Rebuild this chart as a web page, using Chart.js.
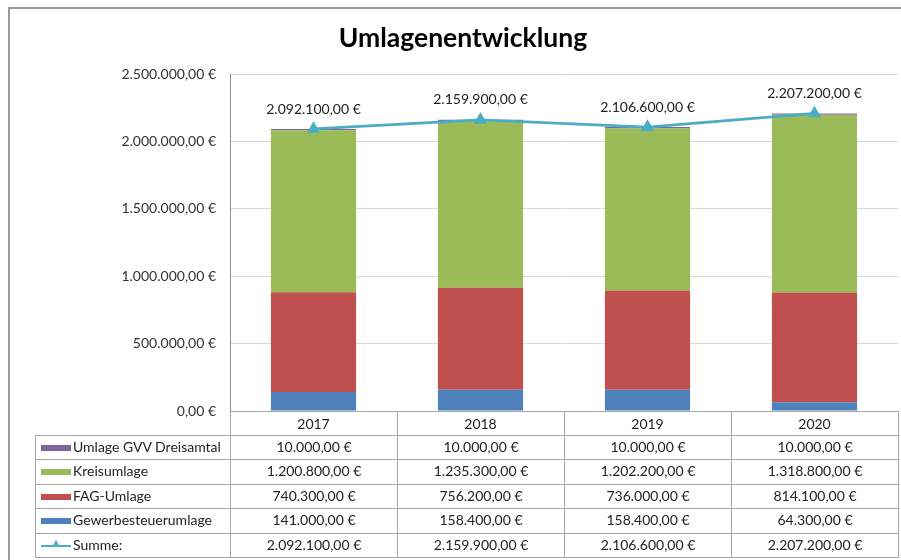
<!DOCTYPE html>
<html lang="de">
<head>
<meta charset="utf-8">
<title>Umlagenentwicklung</title>
<script src="https://cdn.jsdelivr.net/npm/chart.js@4/dist/chart.umd.min.js"></script>
<style>
  html, body { margin: 0; padding: 0; background: #fff; }
  body { width: 901px; height: 560px; position: relative; overflow: hidden;
         font-family: Lato, "Open Sans", sans-serif; }
  #frame { position: absolute; left: 8px; top: 7px; width: 1000px; height: 1000px;
           border-left: 2px solid #9a9a9a; border-top: 2px solid #9a9a9a; }
  #wrap { position: absolute; left: 0; top: 0; width: 901px; height: 560px; }
  #datatable { position: absolute; left: 0; top: 0; font-size: 14px; color: #222; }
  .cell { position: absolute; box-sizing: border-box; border: 1px solid #a6a6a6;
          line-height: 22px; white-space: nowrap; overflow: hidden; }
  .num { text-align: center; }
  .name { padding-left: 37px; }
  .key { position: absolute; left: 5px; top: 9px; width: 30px; height: 6px; }
  .lineKey { position: absolute; left: 5px; top: 11px; width: 30px; height: 2px; background: #4BACC6; }
  .tri { position: absolute; left: 11px; top: -5px; width: 0; height: 0;
         border-left: 4px solid transparent; border-right: 4px solid transparent;
         border-bottom: 7px solid #4BACC6; }
</style>
</head>
<body>
<div id="frame"></div>
<div id="wrap"><canvas id="chart" width="901" height="560"></canvas></div>
<div id="datatable"></div>
<script>
/**************************************************
 DATA
**************************************************/
const years = ["2017", "2018", "2019", "2020"];
const gvv = [10000, 10000, 10000, 10000];
const kreis = [1200800, 1235300, 1202200, 1318800];
const fag = [740300, 756200, 736000, 814100];
const gewerbe = [141000, 158400, 158400, 64300];
const summe = [2092100, 2159900, 2106600, 2207200];

const yTicks = [0, 500000, 1000000, 1500000, 2000000, 2500000];

// table rows, top to bottom (like the Excel data table)
const tableRows = [
  { label: "Umlage GVV Dreisamtal", data: gvv, color: "#8064A2" },
  { label: "Kreisumlage", data: kreis, color: "#9BBB59" },
  { label: "FAG-Umlage", data: fag, color: "#C0504D" },
  { label: "Gewerbesteuerumlage", data: gewerbe, color: "#4F81BD" },
  { label: "Summe:", data: summe, color: "#4BACC6", line: true }
];

/**************************************************
 HELPERS
**************************************************/
function euro(v) {
  const p = v.toFixed(2).split(".");
  const int = p[0].replace(/\B(?=(\d{3})+(?!\d))/g, ".");
  return int + "," + p[1] + " €";
}

const FONT = "Lato, 'Open Sans', sans-serif";

// labels above the Summe points
const sumLabels = {
  id: "sumLabels",
  afterDatasetsDraw(chart) {
    const ctx = chart.ctx;
    chart.data.datasets.forEach((ds, i) => {
      if (ds.type !== "line") return;
      const meta = chart.getDatasetMeta(i);
      ctx.save();
      ctx.font = "14px " + FONT;
      ctx.fillStyle = "#222";
      ctx.textAlign = "center";
      ctx.textBaseline = "middle";
      meta.data.forEach((pt, j) => {
        ctx.fillText(euro(ds.data[j]), pt.x, pt.y - 20);
      });
      ctx.restore();
    });
  }
};

// data table under the plot, aligned to the x scale
const dataTable = {
  id: "dataTable",
  afterRender(chart) {
    if (chart._tableDone) return;
    chart._tableDone = true;
    const ca = chart.chartArea;
    const n = years.length;
    const colW = (ca.right - ca.left) / n;
    const leftX = 35;
    const headTop = ca.bottom;
    const rowTop = headTop + 24;
    const rowH = 24.4;
    const box = document.getElementById("datatable");
    let html = "";
    const cell = (l, t, w, h, cls, inner) =>
      `<div class="cell ${cls}" style="left:${l}px;top:${t}px;width:${w + 1}px;height:${h + 1}px">${inner}</div>`;

    // header row borders (year labels come from the x axis)
    for (let c = 0; c < n; c++) {
      html += cell(ca.left + c * colW, headTop, colW, 24, "", "");
    }
    tableRows.forEach((r, i) => {
      const t = rowTop + i * rowH;
      const key = r.line
        ? `<span class="lineKey"><span class="tri"></span></span>`
        : `<span class="key" style="background:${r.color}"></span>`;
      html += cell(leftX, t, ca.left - leftX, rowH, "name", key + r.label);
      r.data.forEach((v, c) => {
        html += cell(ca.left + c * colW, t, colW, rowH, "num", euro(v));
      });
    });
    box.innerHTML = html;
  }
};

/**************************************************
 CHART
**************************************************/
new Chart(document.getElementById("chart"), {
  data: {
    labels: years,
    datasets: [
      { type: "line", label: "Summe:", data: summe, order: 0,
        borderColor: "#4BACC6", backgroundColor: "#4BACC6", borderWidth: 2.75,
        pointStyle: "triangle", pointRadius: 5, pointBackgroundColor: "#4BACC6",
        pointBorderColor: "#4BACC6", tension: 0, fill: false },
      { type: "bar", label: "Gewerbesteuerumlage", data: gewerbe, backgroundColor: "#4F81BD", order: 1 },
      { type: "bar", label: "FAG-Umlage", data: fag, backgroundColor: "#C0504D", order: 1 },
      { type: "bar", label: "Kreisumlage", data: kreis, backgroundColor: "#9BBB59", order: 1 },
      { type: "bar", label: "Umlage GVV Dreisamtal", data: gvv, backgroundColor: "#8064A2", order: 1 }
    ]
  },
  options: {
    responsive: false,
    animation: false,
    layout: { autoPadding: false, padding: { left: 28, right: 3, top: 0, bottom: 0 } },
    datasets: { bar: { categoryPercentage: 1, barPercentage: 0.51 } },
    plugins: {
      legend: { display: false },
      tooltip: { enabled: false },
      title: {
        display: true, text: "Umlagenentwicklung", color: "#000",
        font: { family: FONT, size: 26.5, weight: "bold" },
        padding: { top: 22.1, bottom: 20.1 }
      }
    },
    scales: {
      x: {
        stacked: true,
        grid: { display: false, drawTicks: false },
        border: { display: true, color: "#a6a6a6", width: 1 },
        ticks: { color: "#222", font: { family: FONT, size: 14 }, padding: 5 },
        afterFit: s => { s.height = 149; }
      },
      y: {
        stacked: true, min: 0, max: 2500000,
        afterBuildTicks: s => { s.ticks = yTicks.map(v => ({ value: v })); },
        grid: { color: "#d9d9d9", drawTicks: false },
        border: { display: true, color: "#8c8c8c", width: 1 },
        ticks: { color: "#333", font: { family: FONT, size: 14 }, padding: 14,
                 callback: v => euro(v) },
        afterFit: s => { s.width = 202; }
      }
    }
  },
  plugins: [sumLabels, dataTable]
});
</script>
</body>
</html>
